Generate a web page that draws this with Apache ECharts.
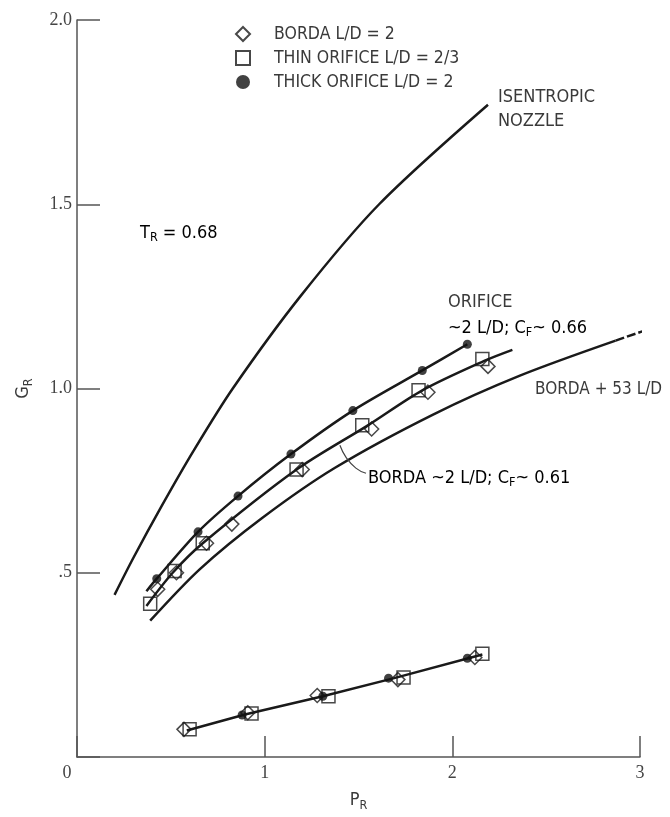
<!DOCTYPE html>
<html>
<head>
<meta charset="utf-8">
<title>G_R vs P_R</title>
<script src="https://cdn.jsdelivr.net/npm/echarts@6/dist/echarts.min.js"></script>
<style>
  html, body { margin: 0; padding: 0; background: #fff; }
  #chart { width: 670px; height: 817px; }
</style>
</head>
<body>
<div id="chart"></div>
<script>
// values: [P_R, G_R]
const isentropicNozzle = [[0.2, 0.44], [0.3, 0.54], [0.45, 0.68], [0.62, 0.83], [0.83, 1.0], [1.19, 1.25], [1.61, 1.5], [2.19, 1.77]]
const orificeCurve = [[0.37, 0.45], [0.425, 0.484], [0.645, 0.611], [0.858, 0.708], [1.14, 0.822], [1.47, 0.94], [1.84, 1.049], [2.08, 1.12]]
const bordaCurve = [[0.37, 0.41], [0.51, 0.5], [0.67, 0.58], [1.17, 0.78], [1.55, 0.9], [1.84, 0.995], [2.17, 1.075], [2.32, 1.105]]
const borda53Curve = [[0.39, 0.37], [0.655, 0.51], [0.99, 0.65], [1.375, 0.785], [1.9, 0.93], [2.36, 1.035], [2.87, 1.13]]
const borda53Tail = [[2.87, 1.13], [3.04, 1.16]]
const lowLine = [[0.585, 0.072], [0.9, 0.116], [1.31, 0.165], [1.69, 0.214], [2.16, 0.278]]
const leader = [[1.401, 0.846], [1.433, 0.814], [1.486, 0.784], [1.54, 0.77]]

const bordaPts = [[0.43, 0.455], [0.53, 0.5], [0.69, 0.58], [0.825, 0.632], [1.2, 0.78], [1.57, 0.89], [1.87, 0.99], [2.19, 1.06],
  [0.57, 0.075], [0.91, 0.12], [1.28, 0.167], [1.71, 0.21], [2.12, 0.27]]
const thinPts = [[0.39, 0.416], [0.52, 0.505], [0.67, 0.58], [1.17, 0.78], [1.52, 0.9], [1.82, 0.995], [2.16, 1.08],
  [0.6, 0.075], [0.93, 0.118], [1.34, 0.165], [1.74, 0.216], [2.16, 0.28]]
const thickPts = [[0.425, 0.484], [0.645, 0.611], [0.858, 0.708], [1.14, 0.822], [1.47, 0.94], [1.84, 1.049], [2.08, 1.12],
  [0.88, 0.114], [1.31, 0.165], [1.66, 0.214], [2.08, 0.268]]

const xTicks = [0, 1, 2, 3]
const yTickLabels = { 0.5: '.5', 1: '1.0', 1.5: '1.5', 2: '2.0' }
const legendNames = ['BORDA L/D = 2', 'THIN ORIFICE L/D = 2/3', 'THICK ORIFICE L/D = 2']

const ink = '#1a1a1a'
const textCol = '#3a3a3a'
const labelFont = "'DejaVu Sans Condensed', 'Liberation Sans Narrow', 'Liberation Sans', sans-serif"
const tickFont = "'Liberation Serif', 'DejaVu Serif', serif"
const subRich = {
  m: { fontSize: 18, fontFamily: labelFont, color: textCol },
  s: { fontSize: 12.5, fontFamily: labelFont, color: textCol, padding: [10, 0, 0, 0] }
}

const curve = (data, extra) => Object.assign({
  type: 'line',
  data: data,
  smooth: 0.3,
  showSymbol: false,
  silent: true,
  lineStyle: { color: ink, width: 2.5 },
  z: 2
}, extra || {})

const chart = echarts.init(document.getElementById('chart'))

const option = {
  animation: false,
  backgroundColor: '#fff',
  grid: { left: 77, right: 30, top: 20, bottom: 56 },
  legend: {
    orient: 'vertical',
    left: 230,
    top: 20,
    itemWidth: 14,
    itemHeight: 14,
    itemGap: 6,
    data: legendNames,
    textStyle: { fontSize: 17.5, fontFamily: labelFont, color: textCol, padding: [0, 0, 0, 19] }
  },
  xAxis: {
    type: 'value',
    min: 0,
    max: 3,
    interval: 1,
    name: '{m|P}{s|R}',
    nameLocation: 'middle',
    nameGap: 32,
    nameTextStyle: { rich: subRich },
    splitLine: { show: false },
    axisLine: { lineStyle: { color: '#555', width: 1.5 } },
    axisTick: { inside: true, length: 21, lineStyle: { color: '#555', width: 1.5 } },
    axisLabel: {
      margin: 7,
      fontSize: 18,
      fontFamily: tickFont,
      color: '#444',
      formatter: v => (xTicks.indexOf(v) < 0 ? '' : (v === 0 ? '{z|0}' : String(v))),
      rich: { z: { fontSize: 18, fontFamily: tickFont, color: '#444', padding: [0, 20, 0, 0] } }
    }
  },
  yAxis: {
    type: 'value',
    min: 0,
    max: 2,
    interval: 0.5,
    name: '{m|G}{s|R}',
    nameLocation: 'middle',
    nameRotate: 90,
    nameGap: 42,
    nameTextStyle: { rich: subRich },
    splitLine: { show: false },
    axisLine: { lineStyle: { color: '#555', width: 1.5 } },
    axisTick: { inside: true, length: 23, lineStyle: { color: '#555', width: 1.5 } },
    axisLabel: {
      margin: 5,
      fontSize: 18,
      fontFamily: tickFont,
      color: '#444',
      formatter: v => yTickLabels[v] || ''
    }
  },
  series: [
    curve(isentropicNozzle),
    curve(orificeCurve),
    curve(bordaCurve),
    curve(borda53Curve),
    curve(borda53Tail, { smooth: false, lineStyle: { color: ink, width: 2.5, type: [9, 3] } }),
    curve(lowLine, { smooth: false }),
    curve(leader, { smooth: 0.5, lineStyle: { color: '#444', width: 1.2 } }),
    {
      name: legendNames[1],
      type: 'scatter',
      data: thinPts,
      symbol: 'rect',
      symbolSize: 13,
      itemStyle: { color: 'rgba(255,255,255,0)', borderColor: ink, borderWidth: 1.5 },
      z: 3
    },
    {
      name: legendNames[0],
      type: 'scatter',
      data: bordaPts,
      symbol: 'diamond',
      symbolSize: 14,
      itemStyle: { color: 'rgba(255,255,255,0)', borderColor: ink, borderWidth: 1.5 },
      z: 4
    },
    {
      name: legendNames[2],
      type: 'scatter',
      data: thickPts,
      symbol: 'circle',
      symbolSize: 9,
      itemStyle: { color: '#111' },
      z: 5
    }
  ],
  graphic: [
    { type: 'text', x: 498, y: 97, style: { text: 'ISENTROPIC', font: '18px ' + labelFont, fill: textCol, verticalAlign: 'middle' } },
    { type: 'text', x: 498, y: 121, style: { text: 'NOZZLE', font: '18px ' + labelFont, fill: textCol, verticalAlign: 'middle' } },
    { type: 'text', x: 140, y: 233, style: { text: '{m|T}{s|R}{m| = 0.68}', rich: subRich, verticalAlign: 'middle' } },
    { type: 'text', x: 448, y: 302, style: { text: 'ORIFICE', font: '18px ' + labelFont, fill: textCol, verticalAlign: 'middle' } },
    { type: 'text', x: 448, y: 328, style: { text: '{m|~2 L/D; C}{s|F}{m|~ 0.66}', rich: subRich, verticalAlign: 'middle' } },
    { type: 'text', x: 535, y: 390, style: { text: 'BORDA + 53 L/D', font: '17px ' + labelFont, fill: textCol, verticalAlign: 'middle' } },
    { type: 'text', x: 368, y: 478, style: { text: '{m|BORDA ~2 L/D; C}{s|F}{m|~ 0.61}', rich: subRich, verticalAlign: 'middle' } }
  ]
}

chart.setOption(option)
</script>
</body>
</html>
